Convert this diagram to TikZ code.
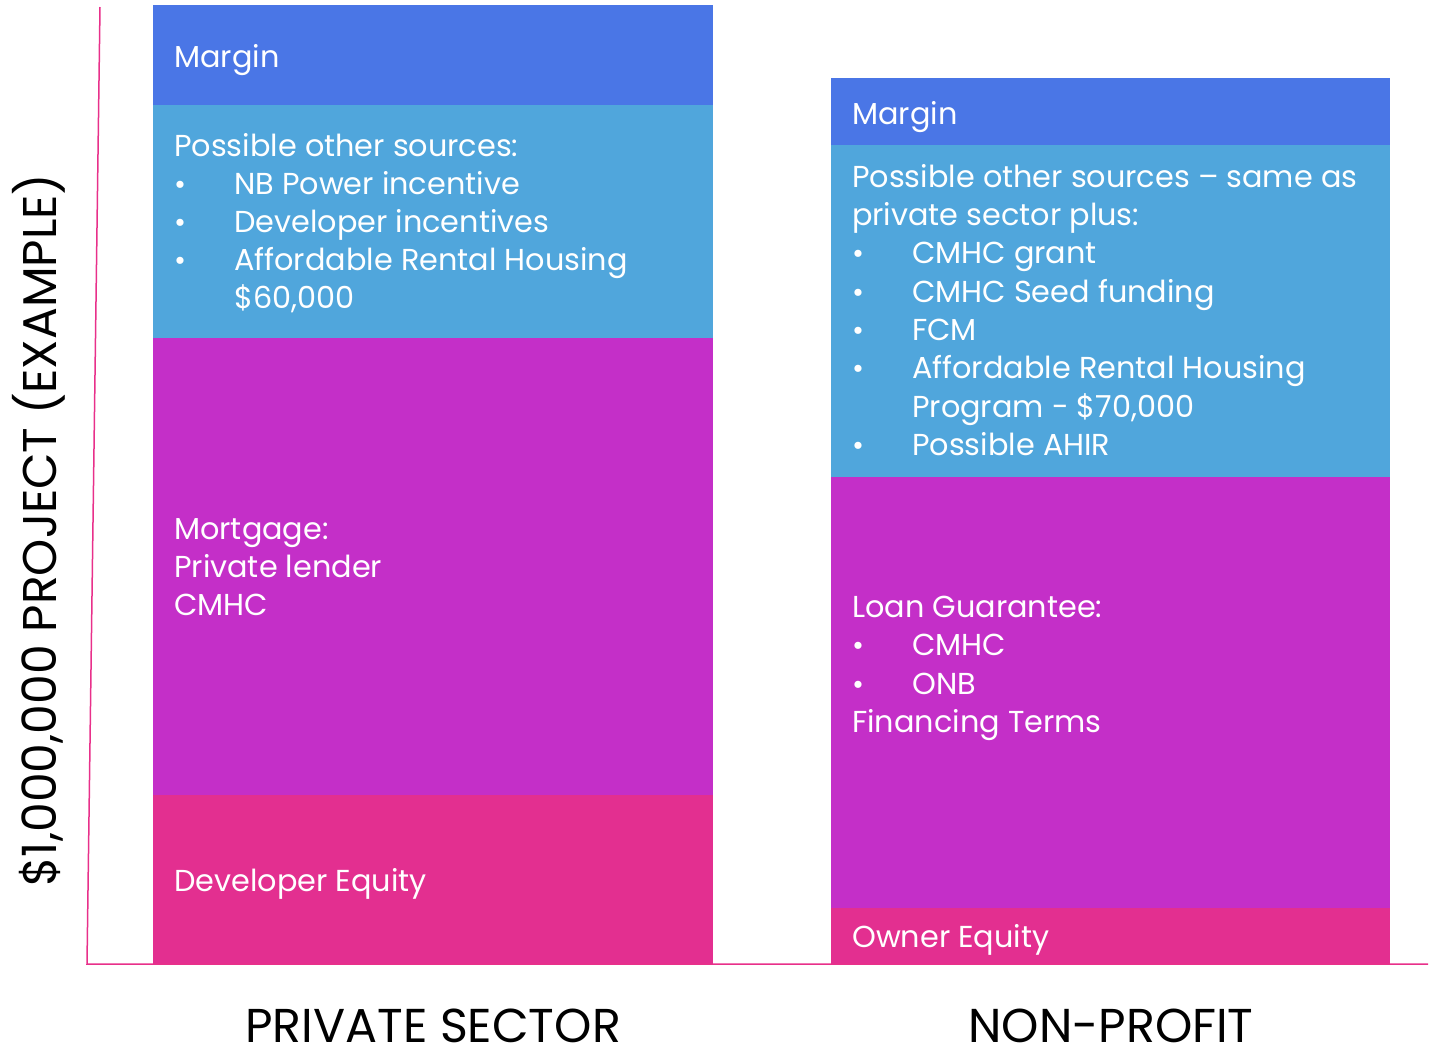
\documentclass[tikz,border=0pt]{standalone}
\usepackage{fontspec}
\setmainfont{Poppins}
\definecolor{marginblue}{HTML}{4A76E6}
\definecolor{srcblue}{HTML}{50A6DC}
\definecolor{loanpurple}{HTML}{C42FC8}
\definecolor{equitypink}{HTML}{E32F90}
\definecolor{axispink}{HTML}{E8308A}
\begin{document}
\begin{tikzpicture}[x=1pt,y=-1pt,
  txt/.style={anchor=base west,inner sep=0pt,text=white,font=\fontsize{30.3}{36}\selectfont},
  bul/.style={anchor=base west,inner sep=0pt,text=white,font=\fontsize{29}{36}\selectfont},
  cat/.style={anchor=base,inner sep=0pt,font=\fontsize{47.5}{57}\selectfont}]
\useasboundingbox (0,0) rectangle (1432,1045);

% left column: private sector
\fill[marginblue] (153,5) rectangle (713,105);
\fill[srcblue] (153,105) rectangle (713,338);
\fill[loanpurple] (153,338) rectangle (713,795);
\fill[equitypink] (153,795) rectangle (713,964);

% right column: non-profit
\fill[marginblue] (831,78) rectangle (1390,145);
\fill[srcblue] (831,145) rectangle (1390,477);
\fill[loanpurple] (831,477) rectangle (1390,908);
\fill[equitypink] (831,908) rectangle (1390,964);

% axes
\coordinate (ytop) at (100,7);
\coordinate (origin) at (87,964);
\coordinate (xend) at (1428,964);
\draw[axispink,line width=1.5pt] (ytop) -- (origin) -- (xend);

% left column texts
\node[txt] (lm) at (174,67) {Margin};
\node[txt] (ls0) at (174,156) {Possible other sources:};
\node[bul] (lb1) at (174,194) {•};
\node[txt] (ls1) at (234,194) {NB Power incentive};
\node[bul] (lb2) at (174,232) {•};
\node[txt] (ls2) at (234,232) {Developer incentives};
\node[bul] (lb3) at (174,270) {•};
\node[txt] (ls3) at (234,270) {Affordable Rental Housing};
\node[txt] (ls4) at (234,308) {\$60,000};
\node[txt] (lmo1) at (174,539) {Mortgage:};
\node[txt] (lmo2) at (174,577) {Private lender};
\node[txt] (lmo3) at (174,615) {CMHC};
\node[txt] (leq) at (174,891) {Developer Equity};

% right column texts
\node[txt] (rm) at (852,124) {Margin};
\node[txt] (rs0) at (852,187) {Possible other sources – same as};
\node[txt] (rs1) at (852,225) {private sector plus:};
\node[bul] (rb1) at (852,263) {•};
\node[txt] (rs2) at (912,263) {CMHC grant};
\node[bul] (rb2) at (852,302) {•};
\node[txt] (rs3) at (912,302) {CMHC Seed funding};
\node[bul] (rb3) at (852,340) {•};
\node[txt] (rs4) at (912,340) {FCM};
\node[bul] (rb4) at (852,378) {•};
\node[txt] (rs5) at (912,378) {Affordable Rental Housing};
\node[txt] (rs6) at (912,417) {Program - \$70,000};
\node[bul] (rb5) at (852,455) {•};
\node[txt] (rs7) at (912,455) {Possible AHIR};
\node[txt] (rl0) at (852,617) {Loan Guarantee:};
\node[bul] (rlb1) at (852,655) {•};
\node[txt] (rl1) at (912,655) {CMHC};
\node[bul] (rlb2) at (852,694) {•};
\node[txt] (rl2) at (912,694) {ONB};
\node[txt] (rl3) at (852,732) {Financing Terms};
\node[txt] (req) at (852,947) {Owner Equity};

% axis and category labels
\node[anchor=base,inner sep=0pt,rotate=90,font=\fontsize{47.3}{57}\selectfont] (ylab) at (56,530) {\$1,000,000 PROJECT (EXAMPLE)};
\node[cat] (cpriv) at (433,1042) {PRIVATE SECTOR};
\node[cat] (cnon) at (1111,1042) {NON-PROFIT};
\end{tikzpicture}
\end{document}
